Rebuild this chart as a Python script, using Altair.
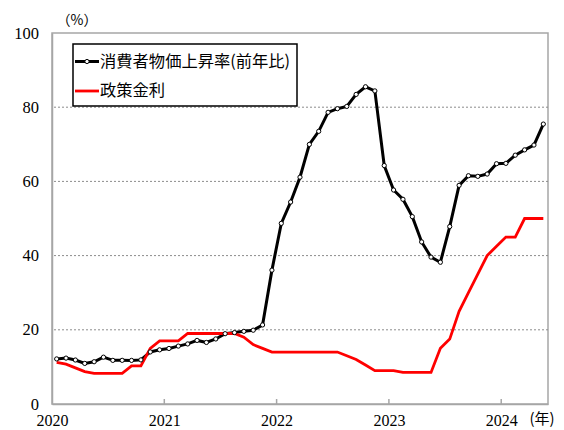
import altair as alt
import pandas as pd

# Monthly data, Jan 2020 - May 2024
cpi = [12.15, 12.37, 11.86, 10.94, 11.39, 12.62, 11.76, 11.77, 11.75, 11.89, 14.03, 14.60,
       14.97, 15.61, 16.19, 17.14, 16.59, 17.53, 18.95, 19.25, 19.58, 19.89, 21.31, 36.08,
       48.69, 54.44, 61.14, 69.97, 73.50, 78.62, 79.60, 80.21, 83.45, 85.51, 84.39, 64.27,
       57.68, 55.18, 50.51, 43.68, 39.59, 38.21, 47.83, 58.94, 61.53, 61.36, 61.98, 64.77,
       64.86, 67.07, 68.50, 69.80, 75.45]
rate = [11.25, 10.75, 9.75, 8.75, 8.25, 8.25, 8.25, 8.25, 10.25, 10.25, 15.0, 17.0,
        17.0, 17.0, 19.0, 19.0, 19.0, 19.0, 19.0, 19.0, 18.0, 16.0, 15.0, 14.0,
        14.0, 14.0, 14.0, 14.0, 14.0, 14.0, 14.0, 13.0, 12.0, 10.5, 9.0, 9.0,
        9.0, 8.5, 8.5, 8.5, 8.5, 15.0, 17.5, 25.0, 30.0, 35.0, 40.0, 42.5,
        45.0, 45.0, 50.0, 50.0, 50.0]
year_ticks = [0, 12, 24, 36, 48]
year_labels = ["2020", "2021", "2022", "2023", "2024"]
y_ticks = [0, 20, 40, 60, 80, 100]
grid_vals = [20, 40, 60, 80]
legend_labels = ["消費者物価上昇率(前年比)", "政策金利"]

df = pd.DataFrame({"m": [i + 0.5 for i in range(len(cpi))], "cpi": cpi, "rate": rate})
W, H = 496, 371
GRAY = "#a6a6a6"
SERIF = "Liberation Serif"
CJK = "Noto Sans CJK JP"

xs = alt.Scale(domain=[0, 53], nice=False, zero=False)
ys = alt.Scale(domain=[0, 100], nice=False)

xaxis = alt.Axis(values=year_ticks, labelExpr="toString(2020 + datum.value/12)", ticks=False,
                 grid=False, domainColor=GRAY, domainWidth=1.5, labelFont=SERIF,
                 labelFontSize=16, labelColor="black", labelPadding=8, labelFlush=False,
                 labelOverlap=False, title=None)
yaxis = alt.Axis(values=y_ticks, ticks=False, grid=False, domainColor=GRAY, domainWidth=1.5,
                 labelFont=SERIF, labelFontSize=16.5, labelColor="black", labelPadding=13.5,
                 labelFlush=False, labelOverlap=False, title=None)

grid = alt.Chart(pd.DataFrame({"g": grid_vals})).mark_rule(
    color="#8c8c8c", strokeDash=[2, 2], strokeWidth=1
).encode(y=alt.Y("g:Q", scale=ys, axis=yaxis))

ticks = alt.Chart(pd.DataFrame({"t": year_ticks[1:]})).mark_rule(
    color=GRAY, strokeWidth=1.5
).encode(x=alt.X("t:Q", scale=xs, axis=xaxis), y=alt.value(H), y2=alt.value(H - 5))

cpi_line = alt.Chart(df).mark_line(color="black", strokeWidth=3).encode(
    x=alt.X("m:Q", scale=xs, axis=xaxis), y=alt.Y("cpi:Q", scale=ys, axis=yaxis))
cpi_pts = alt.Chart(df).mark_point(
    filled=True, fill="white", stroke="black", strokeWidth=1, size=18, opacity=1
).encode(x=alt.X("m:Q", scale=xs, axis=xaxis), y=alt.Y("cpi:Q", scale=ys, axis=yaxis))
rate_line = alt.Chart(df).mark_line(color="#ff0000", strokeWidth=2.8).encode(
    x=alt.X("m:Q", scale=xs, axis=xaxis), y=alt.Y("rate:Q", scale=ys, axis=yaxis))

one = pd.DataFrame({"a": [0]})
leg_box = alt.Chart(one).mark_rect(fill="white", stroke="black", strokeWidth=1.5).encode(
    x=alt.value(21), x2=alt.value(245), y=alt.value(11), y2=alt.value(73))
leg_l1 = alt.Chart(one).mark_rule(color="black", strokeWidth=3).encode(
    x=alt.value(23), x2=alt.value(47), y=alt.value(28.5))
leg_p1 = alt.Chart(one).mark_point(
    filled=True, fill="white", stroke="black", strokeWidth=1, size=18, opacity=1
).encode(x=alt.value(35), y=alt.value(28.5))
leg_l2 = alt.Chart(one).mark_rule(color="#ff0000", strokeWidth=2.8).encode(
    x=alt.value(23), x2=alt.value(47), y=alt.value(58))
leg_t1 = alt.Chart(one).mark_text(align="left", baseline="middle", font=CJK, fontSize=16.3,
                                  color="black").encode(
    x=alt.value(48), y=alt.value(28.5), text=alt.value(legend_labels[0]))
leg_t2 = alt.Chart(one).mark_text(align="left", baseline="middle", font=CJK, fontSize=16.3,
                                  color="black").encode(
    x=alt.value(48), y=alt.value(58), text=alt.value(legend_labels[1]))

unit_y = alt.Chart(one).mark_text(align="center", baseline="middle", font=CJK, fontSize=14,
                                  color="black").encode(
    x=alt.value(25), y=alt.value(-12), text=alt.value("（%）"))
unit_x = alt.Chart(one).mark_text(align="center", baseline="middle", font=CJK, fontSize=15,
                                  color="black").encode(
    x=alt.value(490), y=alt.value(386), text=alt.value("(年)"))

chart = alt.layer(
    grid, ticks, cpi_line, rate_line, cpi_pts,
    leg_box, leg_l1, leg_p1, leg_l2, leg_t1, leg_t2, unit_y, unit_x
).resolve_scale(x="shared", y="shared").properties(
    width=W, height=H,
    autosize=alt.AutoSizeParams(type="none"),
    padding={"left": 44, "top": 25, "right": 8, "bottom": 26},
).configure_view(stroke=GRAY, strokeWidth=1.5)

chart.save("out.html", embed_options={"renderer": "svg", "actions": False})
